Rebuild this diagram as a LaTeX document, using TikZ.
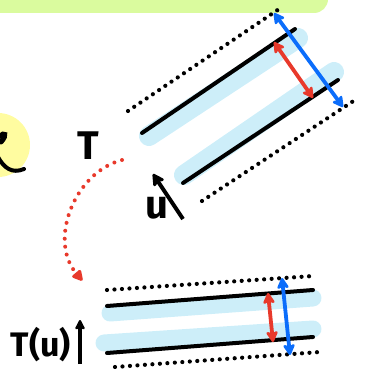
\documentclass[tikz,border=0pt]{standalone}
\usepackage{fontspec}
\setmainfont{Fira Sans}
\usetikzlibrary{arrows.meta}
\definecolor{lime}{HTML}{DAFB9E}
\definecolor{yel}{HTML}{FFFCA0}
\definecolor{hl}{HTML}{CDEEF9}
\definecolor{bl}{HTML}{0B6DFB}
\definecolor{rd}{HTML}{E8392B}
\tikzset{
  solidline/.style={line width=4pt, line cap=round},
  dotline/.style={line width=4.2pt, line cap=round, dash pattern=on 0pt off 7.5pt},
  band/.style={hl, line width=20pt, line cap=round},
  dbl/.style={line width=3.8pt, {Stealth[length=13pt,width=14pt,round,inset=3pt]}-{Stealth[length=13pt,width=14pt,round,inset=3pt]}},
  lbl/.style={inner sep=0pt, font=\fontsize{40}{40}\selectfont\bfseries}
}
\begin{document}
\begin{tikzpicture}[x=1pt,y=-1pt]
\useasboundingbox (0,0) rectangle (370,369);
% green box and yellow circle
\begin{scope}
\clip (0,0) rectangle (370,369);
\fill[lime, rounded corners=14pt] (-20,-30) rectangle (328,13);
\fill[yel] (-2,145) circle (32);
\draw[line width=5pt, line cap=round] (0,136) .. controls (4,132) and (8,134) .. (1,142);
\draw[line width=4pt, line cap=round] (-2,157) .. controls (4,168) and (12,174) .. (24,169);
\end{scope}

% ---------- top (tilted) diagram ----------
\coordinate (b1s) at (149,136); \coordinate (b1e) at (298,38);
\coordinate (b2s) at (184,175); \coordinate (b2e) at (334,72);
\draw[band] (b1s) -- (b1e);
\draw[band] (b2s) -- (b2e);
\coordinate (d1s) at (128,111); \coordinate (d1e) at (282,7);
\coordinate (d2s) at (202,201); \coordinate (d2e) at (358,98);
\draw[dotline] (d1s) -- (d1e);
\draw[dotline] (d2s) -- (d2e);
\coordinate (l1s) at (142,133); \coordinate (l1e) at (295,29);
\coordinate (l2s) at (183,183); \coordinate (l2e) at (338,80);
\draw[solidline] (l1s) -- (l1e);
\draw[solidline] (l2s) -- (l2e);
\coordinate (ra) at (274,42); \coordinate (rb) at (313,98);
\draw[dbl, rd] (ra) -- (rb);
\coordinate (ba) at (274,13); \coordinate (bb) at (343,107);
\draw[dbl, bl] (ba) -- (bb);
\coordinate (us) at (183,219); \coordinate (ue) at (153,174);
\draw[line width=4pt, -{Stealth[length=14pt,width=15pt,round,inset=3pt]}] (us) -- (ue);
\node[lbl] (u) at (157,208) {u};
\node[lbl] (T) at (88,146) {T};

% red dotted curved arrow
\coordinate (cs) at (122,160); \coordinate (ce) at (81,279);
\draw[rd, line width=4pt, line cap=round, dash pattern=on 0pt off 8pt,
  -{Triangle[length=12pt,width=12pt,round,sep=-2pt]}]
  (cs) .. controls (75,172) and (48,240) .. (ce);

% ---------- bottom diagram ----------
\coordinate (c1s) at (110,313); \coordinate (c1e) at (313,298);
\coordinate (c2s) at (104,343); \coordinate (c2e) at (313,329);
\draw[band, line width=17pt] (c1s) -- (c1e);
\draw[band, line width=17pt] (c2s) -- (c2e);
\coordinate (e1s) at (107,290); \coordinate (e1e) at (313,276);
\coordinate (e2s) at (115,367); \coordinate (e2e) at (320,352);
\draw[dotline] (e1s) -- (e1e);
\draw[dotline] (e2s) -- (e2e);
\coordinate (m1s) at (107,306); \coordinate (m1e) at (313,290);
\coordinate (m2s) at (107,353); \coordinate (m2e) at (313,337);
\draw[solidline] (m1s) -- (m1e);
\draw[solidline] (m2s) -- (m2e);
\coordinate (rc) at (268,293); \coordinate (rd2) at (273,342);
\draw[dbl, rd] (rc) -- (rd2);
\coordinate (bc) at (282,278); \coordinate (bd) at (290,355);
\draw[dbl, bl] (bc) -- (bd);
\node[lbl, anchor=east, font=\fontsize{34}{34}\selectfont\bfseries] (Tu) at (71,345) {T(u)};
\coordinate (as) at (80,364); \coordinate (ae) at (80,320);
\draw[line width=3.5pt, -{Stealth[length=12pt,width=12pt,round,inset=3pt]}] (as) -- (ae);
\end{tikzpicture}
\end{document}
